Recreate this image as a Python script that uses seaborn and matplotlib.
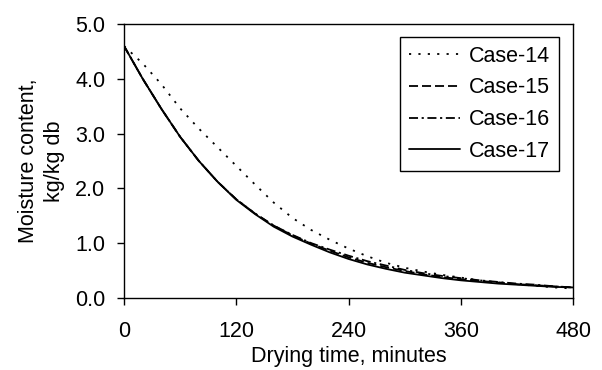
import numpy as np
import pandas as pd
import matplotlib
matplotlib.use("Agg")
import matplotlib.pyplot as plt
import seaborn as sns

time_min = [0, 20, 40, 60, 80, 100, 120, 140, 160, 180, 200, 220, 240,
            260, 280, 300, 320, 340, 360, 380, 400, 420, 440, 460, 480]
case14 = [4.60, 4.28, 3.90, 3.46, 3.09, 2.75, 2.41, 2.07, 1.74, 1.46, 1.24, 1.06, 0.90,
          0.76, 0.64, 0.55, 0.48, 0.42, 0.37, 0.32, 0.28, 0.25, 0.22, 0.19, 0.17]
case15 = [4.60, 4.00, 3.45, 2.94, 2.50, 2.12, 1.80, 1.54, 1.32, 1.14, 0.99, 0.86, 0.74,
          0.64, 0.56, 0.49, 0.43, 0.38, 0.34, 0.31, 0.28, 0.25, 0.23, 0.21, 0.19]
case16 = [4.60, 4.00, 3.45, 2.94, 2.50, 2.12, 1.80, 1.54, 1.32, 1.15, 1.00, 0.88, 0.77,
          0.67, 0.59, 0.51, 0.45, 0.40, 0.36, 0.32, 0.29, 0.26, 0.24, 0.21, 0.19]
case17 = [4.60, 4.00, 3.45, 2.94, 2.50, 2.12, 1.79, 1.53, 1.30, 1.12, 0.97, 0.83, 0.71,
          0.61, 0.53, 0.46, 0.41, 0.36, 0.32, 0.29, 0.26, 0.24, 0.22, 0.20, 0.19]
case_names = ["Case-14", "Case-15", "Case-16", "Case-17"]
x_ticks = [0, 120, 240, 360, 480]
y_ticks = [0.0, 1.0, 2.0, 3.0, 4.0, 5.0]

rows = []
for name, vals in zip(case_names, [case14, case15, case16, case17]):
    for t, v in zip(time_min, vals):
        rows.append({"time": t, "moisture": v, "case": name})
df = pd.DataFrame(rows)

sns.set_style("ticks")
plt.rcParams["font.family"] = ["Liberation Sans", "DejaVu Sans"]
plt.rcParams["text.color"] = "black"
plt.rcParams["axes.labelcolor"] = "black"
plt.rcParams["xtick.color"] = "black"
plt.rcParams["ytick.color"] = "black"

FS = 15.5
fig = plt.figure(figsize=(6.02, 3.70), dpi=100)
ax = fig.add_axes([0.206, 0.195, 0.746, 0.74])

dashes = {"Case-14": (1.2, 4.0), "Case-15": (5.0, 2.2),
          "Case-16": (5.0, 2.0, 1.2, 2.0), "Case-17": ""}
palette = {n: "black" for n in case_names}
sns.lineplot(data=df, x="time", y="moisture", hue="case", style="case",
             palette=palette, dashes=dashes, linewidth=1.3, ax=ax)

ax.set_xlim(0, 480)
ax.set_ylim(0, 5.0)
ax.set_xticks(x_ticks)
ax.set_yticks(y_ticks)
ax.set_yticklabels([f"{v:.1f}" for v in y_ticks])
ax.tick_params(direction="out", length=5, width=1, colors="black", labelsize=FS)
ax.tick_params(axis="x", pad=12)
ax.tick_params(axis="y", pad=8.5)
for s in ax.spines.values():
    s.set_visible(True)
    s.set_color("black")
    s.set_linewidth(1.0)
ax.set_xlabel("Drying time, minutes", fontsize=FS, labelpad=2.5, color="black")
ax.set_ylabel("Moisture content,\nkg/kg db", fontsize=FS, labelpad=7, linespacing=1.3,
              color="black")

leg = ax.legend(loc="upper left", fontsize=FS,
                frameon=True, fancybox=False, edgecolor="black", framealpha=1,
                handlelength=2.4, handletextpad=0.4, labelspacing=0.5,
                borderpad=0.4, borderaxespad=0, title=None)
leg.set_bbox_to_anchor((400 / 602, 1 - 37 / 370), transform=fig.transFigure)
leg.get_frame().set_linewidth(1.0)
for t in leg.get_texts():
    t.set_color("black")

fig.savefig("out.png", dpi=100)
